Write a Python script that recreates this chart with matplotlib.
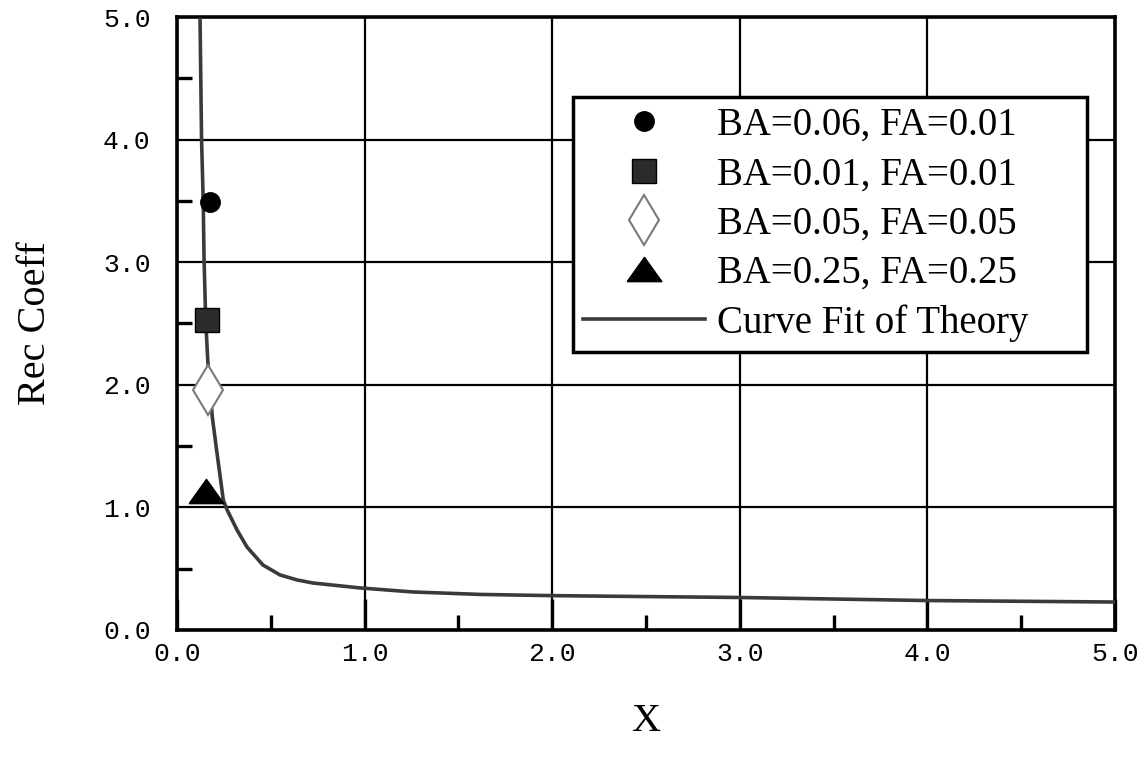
import matplotlib
matplotlib.use("Agg")
import matplotlib.pyplot as plt
from matplotlib.ticker import MultipleLocator, FormatStrFormatter

# Measured points
labels = ["BA=0.06, FA=0.01", "BA=0.01, FA=0.01", "BA=0.05, FA=0.05", "BA=0.25, FA=0.25"]
point_x = [0.176, 0.158, 0.167, 0.153]
point_y = [3.49, 2.53, 1.96, 1.13]

# Theory curve fit
fit_x = [0.123, 0.131, 0.140, 0.144, 0.153, 0.164, 0.176, 0.188, 0.211, 0.247,
         0.267, 0.320, 0.373, 0.458, 0.549, 0.640, 0.725, 0.975, 1.258, 1.615,
         2.000, 3.000, 4.000, 5.000]
fit_y = [4.98, 4.00, 3.49, 3.05, 2.53, 2.20, 1.98, 1.74, 1.47, 1.06,
         0.98, 0.816, 0.677, 0.530, 0.449, 0.408, 0.383, 0.343, 0.310, 0.290,
         0.280, 0.265, 0.240, 0.228]

fig = plt.figure(figsize=(11.44, 7.59), dpi=100)
ax = fig.add_axes([0.1547, 0.170, 0.82, 0.8076])

serif = "Liberation Serif"
mono = "Liberation Mono"

flat_tri = [(-1.0, -0.7), (1.0, -0.7), (0.0, 0.7), (-1.0, -0.7)]

ax.plot(fit_x, fit_y, color="#3a3a3a", lw=2.6, zorder=3, label="Curve Fit of Theory")

ax.plot(point_x[0], point_y[0], "o", ms=14, color="black", zorder=4, label=labels[0])
ax.plot(point_x[1], point_y[1], "s", ms=17, color="#2b2b2b", mec="black", zorder=4, label=labels[1])
ax.plot(point_x[2], point_y[2], "d", ms=25, mfc="white", mec="#7a7a7a", mew=1.5, zorder=4, label=labels[2])
ax.plot(point_x[3], point_y[3], marker=flat_tri, ls="none", ms=25, color="black", zorder=4, label=labels[3])

ax.set_xlim(0, 5)
ax.set_ylim(0, 5)
ax.xaxis.set_major_locator(MultipleLocator(1.0))
ax.yaxis.set_major_locator(MultipleLocator(1.0))
ax.xaxis.set_minor_locator(MultipleLocator(0.5))
ax.yaxis.set_minor_locator(MultipleLocator(0.5))
ax.xaxis.set_major_formatter(FormatStrFormatter("%.1f"))
ax.yaxis.set_major_formatter(FormatStrFormatter("%.1f"))

ax.grid(True, which="major", color="black", lw=1.6, zorder=1)
ax.tick_params(which="major", direction="in", length=22, width=2.4, pad=9,
               labelsize=19, top=False, right=False)
ax.tick_params(axis="y", which="major", length=0, pad=19)
ax.tick_params(which="minor", direction="in", length=11, width=2.4,
               top=False, right=False)
for t in ax.get_xticklabels() + ax.get_yticklabels():
    t.set_fontfamily(mono)

for s in ax.spines.values():
    s.set_linewidth(2.6)

ax.set_xlabel("X", fontsize=29, fontfamily=serif, labelpad=26)
ax.set_ylabel("Rec Coeff", fontsize=29, fontfamily=serif, labelpad=35)

handles, hl = ax.get_legend_handles_labels()
order = [1, 2, 3, 4, 0]
leg = ax.legend([handles[i] for i in order], [hl[i] for i in order],
                loc="upper left", bbox_to_anchor=(0.422, 0.449, 0.548, 0.4205),
                mode="expand", prop={"family": serif, "size": 28}, frameon=True,
                fancybox=False, edgecolor="black", framealpha=1,
                handlelength=3.15, handletextpad=0.3, labelspacing=0.32,
                borderpad=0.25, borderaxespad=0, numpoints=1)
leg.get_frame().set_linewidth(2.5)
leg.set_zorder(5)

fig.savefig("out.png", dpi=100, facecolor="white")
